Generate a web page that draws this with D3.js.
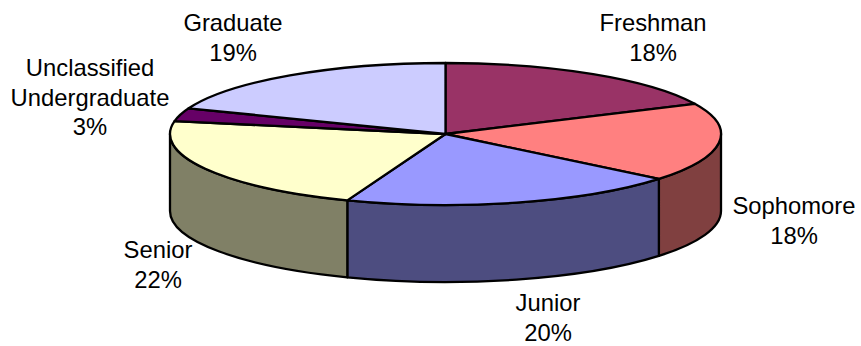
<!DOCTYPE html>
<html><head><meta charset="utf-8">
<script src="https://cdn.jsdelivr.net/npm/d3@7"></script>
<style>html,body{margin:0;padding:0;background:#fff}svg{display:block}</style>
</head><body><svg id="c" width="861" height="346"></svg>
<script>
const categories = ["Freshman","Sophomore","Junior","Senior","Unclassified Undergraduate","Graduate"];
const values = [18,17.9,19.9,22.1,3,19.1];
const topColors = ["#993366","#FF8080","#9999FF","#FFFFCC","#660066","#CCCCFF"];
const sideColors = ["#4D1A33","#804040","#4D4D80","#808066","#330033","#666680"];
const labelLines = [["Freshman","18%"],["Sophomore","18%"],["Junior","20%"],["Senior","22%"],["Unclassified","Undergraduate","3%"],["Graduate","19%"]];
const labelPos = [[653,31],[794,214],[548,311],[158,258],[90,76],[233,31]];

const cx=445.5, cy=134, rx=275.5, ry=71, depth=77, lh=29.5, sw=2.3;
const svg=d3.select("#c");
const arcs=d3.pie().sort(null).value(d=>d)(values);
const pt=(a,dy=0)=>[cx+rx*Math.sin(a), cy-ry*Math.cos(a)+dy];
const F=n=>n.toFixed(2);
const ell=(a0,a1,dy=0)=>{const p=pt(a1,dy);return `A${rx} ${ry} 0 ${a1-a0>Math.PI?1:0} 1 ${F(p[0])} ${F(p[1])}`;};
const front0=Math.PI/2, front1=3*Math.PI/2;

arcs.forEach((d,i)=>{
  const a0=Math.max(d.startAngle,front0), a1=Math.min(d.endAngle,front1);
  if(a1<=a0) return;
  const p0=pt(a0), p1=pt(a1,depth), p2=pt(a0,depth);
  const p=`M${F(p0[0])} ${F(p0[1])}${ell(a0,a1)}L${F(p1[0])} ${F(p1[1])}A${rx} ${ry} 0 0 0 ${F(p2[0])} ${F(p2[1])}Z`;
  svg.append("path").attr("d",p).attr("fill",sideColors[i]).attr("stroke","#000").attr("stroke-width",sw).attr("stroke-linejoin","round");
});
arcs.forEach((d,i)=>{
  const p0=pt(d.startAngle);
  svg.append("path").attr("d",`M${cx} ${cy}L${F(p0[0])} ${F(p0[1])}${ell(d.startAngle,d.endAngle)}Z`)
    .attr("fill",topColors[i]).attr("stroke","#000").attr("stroke-width",sw).attr("stroke-linejoin","round");
});
labelLines.forEach((lines,i)=>{
  const t=svg.append("text").attr("font-family","'Liberation Sans',Arial,sans-serif").attr("font-size",23.8).attr("fill","#000").attr("text-anchor","middle");
  lines.forEach((s,j)=>t.append("tspan").attr("x",labelPos[i][0]).attr("y",labelPos[i][1]+j*lh).text(s));
});
</script></body></html>
